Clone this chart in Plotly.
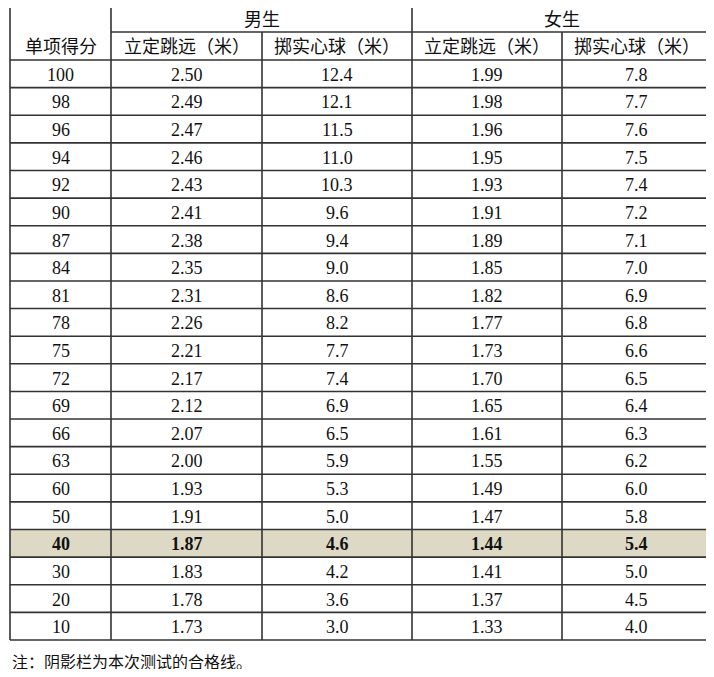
import plotly.graph_objects as go

groups = ["男生", "女生"]
col_headers = ["单项得分", "立定跳远（米）", "掷实心球（米）", "立定跳远（米）", "掷实心球（米）"]
scores = ["100","98","96","94","92","90","87","84","81","78","75","72","69","66","63","60","50","40","30","20","10"]
boy_jump = ["2.50","2.49","2.47","2.46","2.43","2.41","2.38","2.35","2.31","2.26","2.21","2.17","2.12","2.07","2.00","1.93","1.91","1.87","1.83","1.78","1.73"]
boy_ball = ["12.4","12.1","11.5","11.0","10.3","9.6","9.4","9.0","8.6","8.2","7.7","7.4","6.9","6.5","5.9","5.3","5.0","4.6","4.2","3.6","3.0"]
girl_jump = ["1.99","1.98","1.96","1.95","1.93","1.91","1.89","1.85","1.82","1.77","1.73","1.70","1.65","1.61","1.55","1.49","1.47","1.44","1.41","1.37","1.33"]
girl_ball = ["7.8","7.7","7.6","7.5","7.4","7.2","7.1","7.0","6.9","6.8","6.6","6.5","6.4","6.3","6.2","6.0","5.8","5.4","5.0","4.5","4.0"]
highlight = "40"
note = "注：阴影栏为本次测试的合格线。"

cols = [scores, boy_jump, boy_ball, girl_jump, girl_ball]
xb = [10, 111, 262, 412, 562, 711]
top, h1, h2, bottom = 5, 32, 60, 640
n = len(scores)
rh = (bottom - h2) / n
FONT = "Liberation Serif, Noto Sans CJK SC, serif"
LC = "#333333"

fig = go.Figure()
shapes, ann = [], []
hi = scores.index(highlight)
shapes.append(dict(type="rect", x0=xb[0], x1=xb[-1], y0=h2 + hi * rh, y1=h2 + (hi + 1) * rh,
                   fillcolor="#DDD9C4", line_width=0, layer="below"))
def line(x0, y0, x1, y1):
    shapes.append(dict(type="line", x0=x0, y0=y0, x1=x1, y1=y1, line=dict(color=LC, width=1.6)))
line(xb[0], top, xb[-1], top)
line(xb[1], h1, xb[-1], h1)
for i in range(n + 1):
    line(xb[0], h2 + i * rh, xb[-1], h2 + i * rh)
for j, x in enumerate(xb):
    if j in (0, 1, 3, 5):
        line(x, top, x, bottom)
    else:
        line(x, h1, x, bottom)

def txt(x, y, s, bold=False):
    ann.append(dict(x=x, y=y, text=f"<b>{s}</b>" if bold else s, showarrow=False,
                    font=dict(family=FONT, size=18, color="#111"), xanchor="center", yanchor="middle"))

txt((xb[1] + xb[3]) / 2, (top + h1) / 2 + 1, groups[0])
txt((xb[3] + xb[5]) / 2, (top + h1) / 2 + 1, groups[1])
for j, hname in enumerate(col_headers):
    txt((xb[j] + xb[j + 1]) / 2, (h1 + h2) / 2 + 1, hname)
for j, col in enumerate(cols):
    for i, v in enumerate(col):
        txt((xb[j] + xb[j + 1]) / 2, h2 + (i + 0.5) * rh + 1, v, bold=(i == hi))
ann.append(dict(x=10, y=662, text=note, showarrow=False, xanchor="left", yanchor="middle",
                font=dict(family=FONT, size=16, color="#111")))

# page body has an 8px margin; offset the axes so data units equal window pixels
fig.update_layout(width=698, height=661, margin=dict(l=0, r=0, t=0, b=0),
                  plot_bgcolor="white", paper_bgcolor="white", shapes=shapes, annotations=ann,
                  xaxis=dict(range=[8, 706], visible=False, fixedrange=True),
                  yaxis=dict(range=[669, 8], visible=False, fixedrange=True))
fig.write_html("out.html")
